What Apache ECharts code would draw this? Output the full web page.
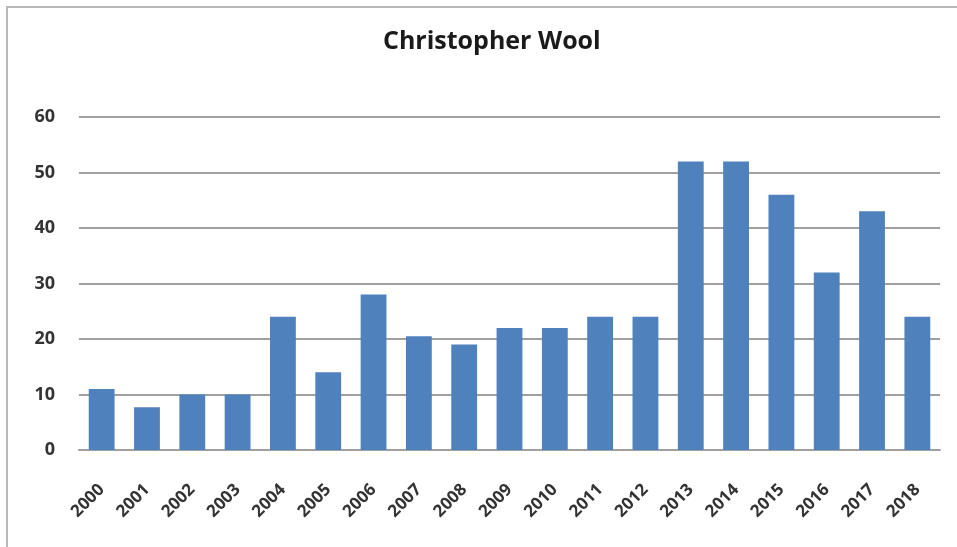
<!DOCTYPE html>
<html>
<head>
<meta charset="utf-8">
<style>
  html, body { margin: 0; padding: 0; background: #fff; }
  #frame { position: absolute; left: 6px; top: 6px; width: 960px; height: 560px;
           border-left: 2px solid #b8b8b8; border-top: 2px solid #b8b8b8; box-sizing: border-box; }
  #chart { position: absolute; left: 0; top: 0; width: 957px; height: 547px; }
</style>
<script src="https://cdn.jsdelivr.net/npm/echarts@6/dist/echarts.min.js"></script>
</head>
<body>
<div id="frame"></div>
<div id="chart"></div>
<script>
// Yearly counts for Christopher Wool, 2000–2018
const years = ['2000','2001','2002','2003','2004','2005','2006','2007','2008','2009',
               '2010','2011','2012','2013','2014','2015','2016','2017','2018'];
const counts = [11, 7.7, 10, 10, 24, 14, 28, 20.5, 19, 22,
                22, 24, 24, 52, 52, 46, 32, 43, 24];
const yTicks = [0, 10, 20, 30, 40, 50, 60];

const chart = echarts.init(document.getElementById('chart'), null, { renderer: 'canvas' });
chart.setOption({
  animation: false,
  title: {
    text: 'Christopher Wool',
    left: 378,
    top: 24,
    textStyle: { fontFamily: 'Open Sans', fontWeight: 'bold', fontSize: 25, color: '#1a1a1a' }
  },
  grid: { left: 79, right: 17, top: 117, bottom: 97, containLabel: false },
  xAxis: {
    type: 'category',
    data: years,
    axisLine: { lineStyle: { color: '#a0a0a0', width: 2 } },
    axisTick: { show: false },
    axisLabel: {
      rotate: 45,
      interval: 0,
      margin: 37,
      fontFamily: 'Open Sans',
      fontWeight: 'bold',
      fontSize: 17,
      color: '#333'
    }
  },
  yAxis: {
    type: 'value',
    min: yTicks[0],
    max: yTicks[yTicks.length - 1],
    interval: 10,
    axisLine: { show: false },
    axisTick: { show: false },
    splitLine: { lineStyle: { color: '#a0a0a0', width: 2 } },
    axisLabel: {
      margin: 24,
      fontFamily: 'Open Sans',
      fontWeight: 'bold',
      fontSize: 18,
      color: '#333'
    }
  },
  series: [{
    type: 'bar',
    data: counts,
    barCategoryGap: '43%',
    itemStyle: { color: '#4f81bd' }
  }]
});
</script>
</body>
</html>
